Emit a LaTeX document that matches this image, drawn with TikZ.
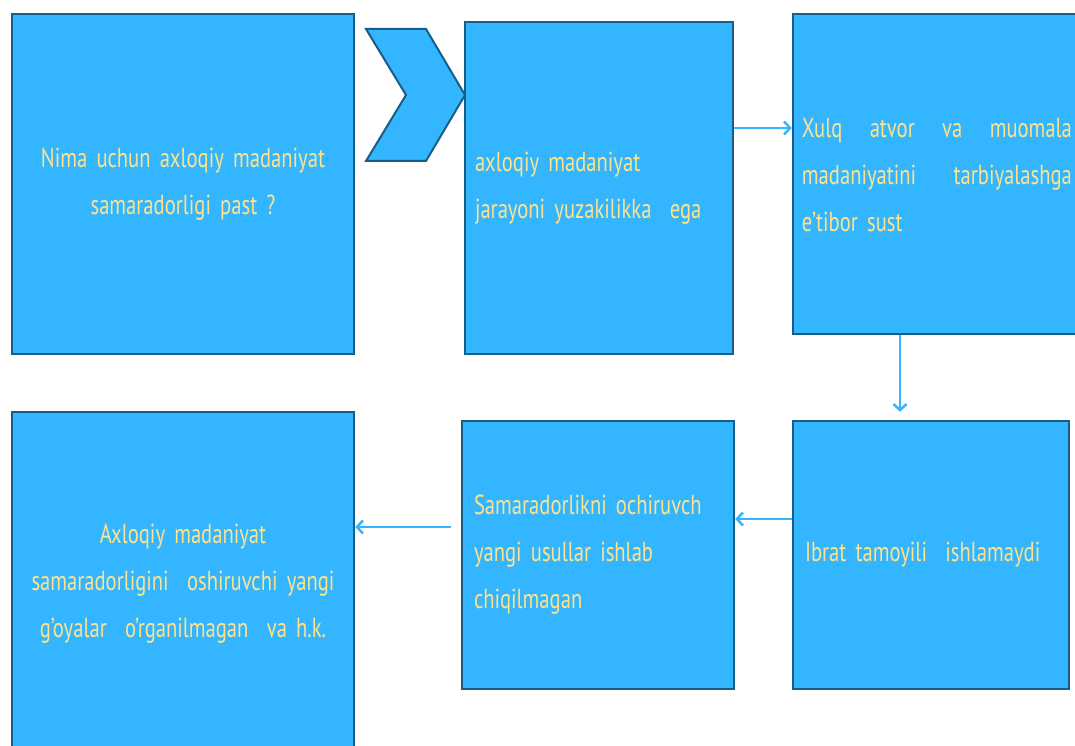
\documentclass[tikz,border=0pt]{standalone}
\usepackage{fontspec}
\usepackage{xcolor}
\usepackage{tikz}
\usetikzlibrary{arrows.meta}
\newfontfamily\boxfont[FakeStretch=0.75]{PT Sans}
\definecolor{boxblue}{HTML}{33B6FF}
\definecolor{boxedge}{HTML}{175E86}
\definecolor{boxtext}{HTML}{FFE28C}
\tikzset{
  box/.style={draw=boxedge, fill=boxblue, line width=2.5pt, inner xsep=10pt,
    text=boxtext, font=\boxfont\fontsize{27.5}{47}\selectfont},
  boxtxt/.style={text=boxtext, inner sep=0pt, font=\boxfont\fontsize{27.5}{47}\selectfont},
  link/.style={draw=boxblue, line width=2.5pt, -{Straight Barb[length=6pt,width=13pt]}}
}
\begin{document}
\begin{tikzpicture}[x=1pt,y=-1pt]
    \clip (0,0) rectangle (1075,746);
    \fill[white] (0,0) rectangle (1075,746);

    % Boxes
    \node[box, minimum width=342pt, minimum height=340pt, text width=322pt, align=center]
      (question) at (183,184) {Nima uchun axloqiy madaniyat\\samaradorligi past ?};
    \node[box, minimum width=264pt, minimum height=332pt, text width=248pt, align=left]
      (surface) at (599,188) {axloqiy madaniyat\\jarayoni yuzakilikka\ \ ega};
    \node[box, minimum width=292pt, minimum height=320pt]
      (manner) at (939,174) {};
    \node[box, minimum width=276pt, minimum height=268pt, text width=252pt, align=left]
      (example) at (931,555) {Ibrat tamoyili\ \ ishlamaydi};
    \node[box, minimum width=272pt, minimum height=268pt, text width=248pt, align=left]
      (methods) at (598,555) {Samaradorlikni ochiruvch\\yangi usullar ishlab\\chiqilmagan};
    \node[box, minimum width=342pt, minimum height=344pt, text width=322pt, align=center]
      (ideas) at (183,584) {Axloqiy madaniyat\\samaradorligini\ \ oshiruvchi yangi\\g’oyalar\ \ o’rganilmagan\ \ va h.k.};

    % Text of the third box, at its top
    \node[boxtxt, anchor=north west, text width=270pt, align=left]
      (mannertxt) at ([shift={(10,105)}]manner.north west)
      {Xulq\hfill atvor\hfill va\hfill muomala\\madaniyatini\hfill tarbiyalashga\\e’tibor sust};

    % Chevron
    \coordinate (C1) at (366,29);
    \coordinate (C2) at (426,29);
    \coordinate (C3) at (465,95);
    \coordinate (C4) at (426,161);
    \coordinate (C5) at (366,161);
    \coordinate (C6) at (406,95);
    \draw[draw=boxedge, fill=boxblue, line width=2pt]
      (C1) -- (C2) -- (C3) -- (C4) -- (C5) -- (C6) -- cycle;

    % Arrows
    \draw[link] ([yshift=60pt]surface.east) -- ([yshift=60pt]surface.east -| manner.west);
    \draw[link, shorten >=8pt] ([xshift=-39pt]manner.south) -- ([xshift=-39pt]manner.south |- example.north);
    \draw[link] ([yshift=36pt]example.west) -- ([yshift=36pt]example.west -| methods.east);
    \draw[link, shorten <=10pt] ([yshift=28pt]methods.west) -- ([yshift=28pt]methods.west -| ideas.east);

\end{tikzpicture}
\end{document}
